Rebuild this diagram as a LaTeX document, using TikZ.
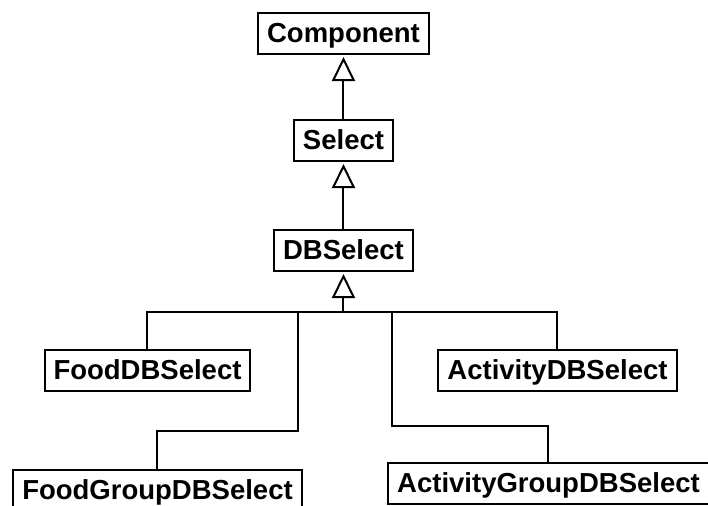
\documentclass[tikz,border=0pt]{standalone}
\usepackage{fontspec}
\setmainfont{Liberation Sans}
\usepackage{tikz}
\usetikzlibrary{arrows.meta, positioning, calc}

\begin{document}
\begin{tikzpicture}[
    node distance=55pt,
    cls/.style={rectangle, draw, line width=1pt, inner xsep=4.5pt, inner ysep=3.75pt,
        text height=11pt, text depth=2pt, font=\fontsize{13.75}{16}\selectfont\bfseries},
    link/.style={line width=1pt},
    extends/.style={line width=1pt, -{Triangle[open, width=11.5pt, length=12pt]}, shorten >=1pt}
]
\useasboundingbox (-171.75pt,16.75pt) rectangle (182.25pt,-235.75pt);

% Nodes
\node[cls] (comp) {Component};
\node[cls, below of=comp, yshift=1.5pt] (sel) {Select};
\node[cls, below of=sel] (dbsel) {DBSelect};
\node[cls, below of=dbsel, yshift=-5pt, xshift=-98pt] (food) {FoodDBSelect};
\node[cls, below of=dbsel, yshift=-5pt, xshift=107pt] (act) {ActivityDBSelect};
\node[cls, below of=food, yshift=-5pt, xshift=5pt] (foodgrp) {FoodGroupDBSelect};
\node[cls, below of=act, yshift=-1.5pt, xshift=-4.5pt] (actgrp) {ActivityGroupDBSelect};

\coordinate (bus) at ([yshift=-20pt]dbsel.south);
\coordinate (foodfork) at ([xshift=-22.5pt]bus);
\coordinate (actfork) at ([xshift=24.5pt]bus);

% Arrows
\draw[extends] (sel.north) -- (comp.south);
\draw[extends] (dbsel.north) -- (sel.south);
\draw[extends] (bus) -- (dbsel.south);
\draw[link] (food.north) |- (bus) -| (act.north);
\draw[link] (foodfork) |- ([yshift=19pt]foodgrp.north) -- (foodgrp.north);
\draw[link] (actfork) |- ([yshift=18pt]actgrp.north) -- (actgrp.north);

\end{tikzpicture}
\end{document}
